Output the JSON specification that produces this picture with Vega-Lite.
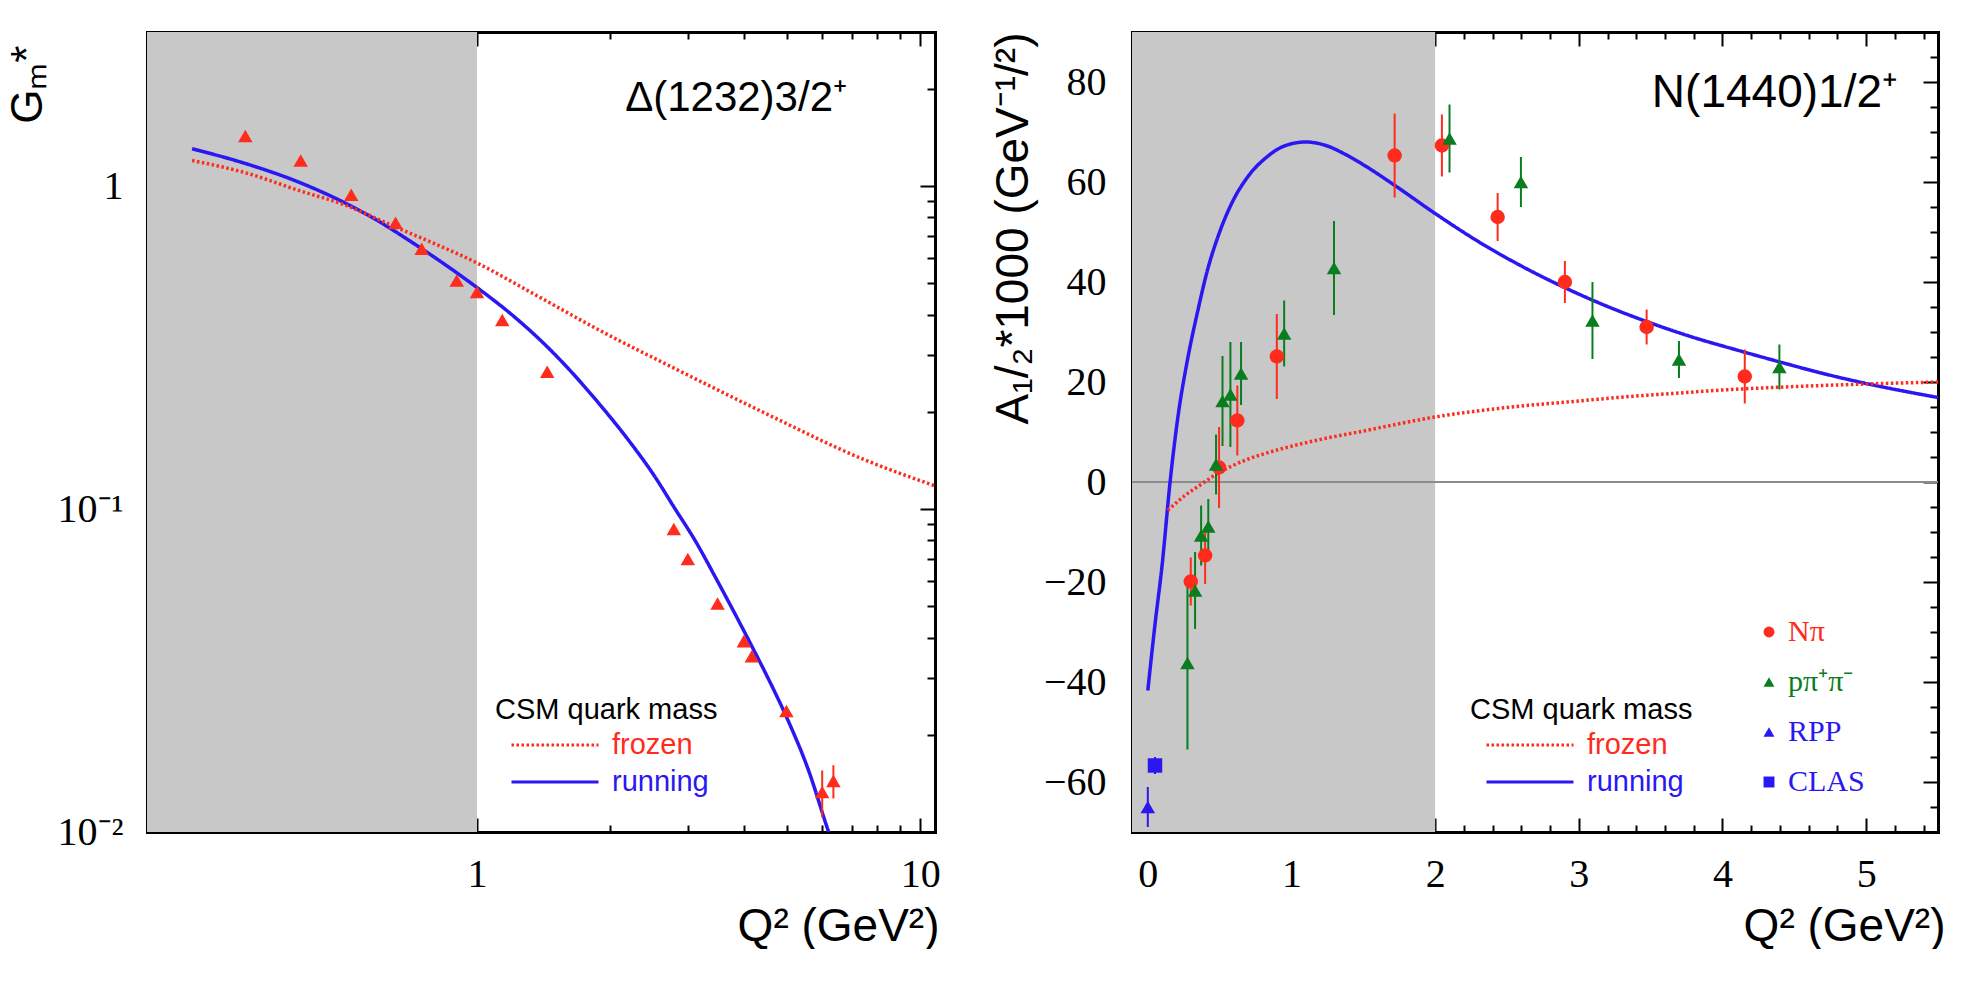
{
  "$schema": "https://vega.github.io/schema/vega-lite/v6.json",
  "background": "white",
  "padding": {"left": 6, "top": 31, "right": 0, "bottom": 0},
  "datasets": {
    "delta_shade": [{"lo": 0.1, "hi": 1}],
    "delta_pts": [
      {"q2": 0.30, "g": 1.43},
      {"q2": 0.40, "g": 1.20},
      {"q2": 0.52, "g": 0.94},
      {"q2": 0.655, "g": 0.77},
      {"q2": 0.75, "g": 0.64},
      {"q2": 0.90, "g": 0.51},
      {"q2": 1.00, "g": 0.47},
      {"q2": 1.14, "g": 0.385},
      {"q2": 1.44, "g": 0.266},
      {"q2": 2.78, "g": 0.0867},
      {"q2": 2.99, "g": 0.070},
      {"q2": 3.49, "g": 0.051},
      {"q2": 4.00, "g": 0.039},
      {"q2": 4.17, "g": 0.035},
      {"q2": 4.99, "g": 0.0237},
      {"q2": 6.01, "g": 0.0133, "lo": 0.0111, "hi": 0.0155},
      {"q2": 6.37, "g": 0.0144, "lo": 0.0127, "hi": 0.0161}
    ],
    "delta_curves": [
      {"model": "running", "q2": 0.2275, "g": 1.305},
      {"model": "running", "q2": 0.3, "g": 1.175},
      {"model": "running", "q2": 0.4, "g": 1.023},
      {"model": "running", "q2": 0.5, "g": 0.891},
      {"model": "running", "q2": 0.6, "g": 0.778},
      {"model": "running", "q2": 0.7, "g": 0.681},
      {"model": "running", "q2": 0.8, "g": 0.603},
      {"model": "running", "q2": 1.0, "g": 0.485},
      {"model": "running", "q2": 1.2, "g": 0.399},
      {"model": "running", "q2": 1.44, "g": 0.318},
      {"model": "running", "q2": 1.6, "g": 0.274},
      {"model": "running", "q2": 1.88, "g": 0.213},
      {"model": "running", "q2": 2.2, "g": 0.163},
      {"model": "running", "q2": 2.5, "g": 0.128},
      {"model": "running", "q2": 2.8, "g": 0.100},
      {"model": "running", "q2": 3.1, "g": 0.0802},
      {"model": "running", "q2": 3.5, "g": 0.0593},
      {"model": "running", "q2": 4.17, "g": 0.0376},
      {"model": "running", "q2": 4.6, "g": 0.0288},
      {"model": "running", "q2": 5.0, "g": 0.0226},
      {"model": "running", "q2": 5.6, "g": 0.0155},
      {"model": "running", "q2": 6.2, "g": 0.0101},
      {"model": "running", "q2": 6.5, "g": 0.0084},
      {"model": "frozen", "q2": 0.2275, "g": 1.20},
      {"model": "frozen", "q2": 0.3, "g": 1.10},
      {"model": "frozen", "q2": 0.4, "g": 0.965},
      {"model": "frozen", "q2": 0.5, "g": 0.877},
      {"model": "frozen", "q2": 0.65, "g": 0.75},
      {"model": "frozen", "q2": 1.0, "g": 0.578},
      {"model": "frozen", "q2": 1.4, "g": 0.449},
      {"model": "frozen", "q2": 1.88, "g": 0.359},
      {"model": "frozen", "q2": 2.8, "g": 0.272},
      {"model": "frozen", "q2": 4.47, "g": 0.198},
      {"model": "frozen", "q2": 7.5, "g": 0.142},
      {"model": "frozen", "q2": 10.8, "g": 0.118}
    ],
    "roper_shade": [{"lo": -0.5, "hi": 2}],
    "roper_pts": [
      {"set": "Nπ", "q2": 0.299, "a": -19.9, "lo": -24.7, "hi": -15.1},
      {"set": "Nπ", "q2": 0.399, "a": -14.7, "lo": -20.4, "hi": -9.0},
      {"set": "Nπ", "q2": 0.496, "a": 2.9, "lo": -5.2, "hi": 11.0},
      {"set": "Nπ", "q2": 0.623, "a": 12.3, "lo": 5.3, "hi": 19.3},
      {"set": "Nπ", "q2": 0.898, "a": 25.1, "lo": 16.6, "hi": 33.6},
      {"set": "Nπ", "q2": 1.718, "a": 65.3, "lo": 56.9, "hi": 73.7},
      {"set": "Nπ", "q2": 2.047, "a": 67.3, "lo": 61.1, "hi": 73.5},
      {"set": "Nπ", "q2": 2.435, "a": 53.0, "lo": 48.2, "hi": 57.8},
      {"set": "Nπ", "q2": 2.903, "a": 40.0, "lo": 35.8, "hi": 44.2},
      {"set": "Nπ", "q2": 3.472, "a": 31.0, "lo": 27.5, "hi": 34.5},
      {"set": "Nπ", "q2": 4.155, "a": 21.1, "lo": 15.7, "hi": 26.5},
      {"set": "pπ⁺π⁻", "q2": 0.276, "a": -36.2, "lo": -53.5, "hi": -18.9},
      {"set": "pπ⁺π⁻", "q2": 0.329, "a": -21.7, "lo": -29.4, "hi": -14.0},
      {"set": "pπ⁺π⁻", "q2": 0.371, "a": -10.7, "lo": -16.7, "hi": -4.7},
      {"set": "pπ⁺π⁻", "q2": 0.421, "a": -8.9, "lo": -14.4, "hi": -3.4},
      {"set": "pπ⁺π⁻", "q2": 0.475, "a": 3.5, "lo": -2.5, "hi": 9.5},
      {"set": "pπ⁺π⁻", "q2": 0.52, "a": 16.2, "lo": 7.2, "hi": 25.2},
      {"set": "pπ⁺π⁻", "q2": 0.575, "a": 17.5, "lo": 7.0, "hi": 28.0},
      {"set": "pπ⁺π⁻", "q2": 0.649, "a": 21.7, "lo": 15.4, "hi": 28.0},
      {"set": "pπ⁺π⁻", "q2": 0.949, "a": 29.7, "lo": 23.1, "hi": 36.3},
      {"set": "pπ⁺π⁻", "q2": 1.296, "a": 42.8, "lo": 33.4, "hi": 52.2},
      {"set": "pπ⁺π⁻", "q2": 2.1, "a": 68.7, "lo": 61.9, "hi": 75.5},
      {"set": "pπ⁺π⁻", "q2": 2.597, "a": 60.0, "lo": 55.0, "hi": 65.0},
      {"set": "pπ⁺π⁻", "q2": 3.095, "a": 32.3, "lo": 24.6, "hi": 40.0},
      {"set": "pπ⁺π⁻", "q2": 3.697, "a": 24.5, "lo": 20.8, "hi": 28.2},
      {"set": "pπ⁺π⁻", "q2": 4.396, "a": 23.0, "lo": 18.5, "hi": 27.5},
      {"set": "RPP", "q2": 0.0, "a": -65.0, "lo": -69.0, "hi": -61.0},
      {"set": "CLAS", "q2": 0.05, "a": -56.7, "lo": -58.4, "hi": -55.0}
    ],
    "roper_curves": [
      {"model": "running", "q2": 0.0, "a": -41.7},
      {"model": "running", "q2": 0.05, "a": -28.5},
      {"model": "running", "q2": 0.1, "a": -16.5},
      {"model": "running", "q2": 0.155, "a": 0.0},
      {"model": "running", "q2": 0.213, "a": 13.7},
      {"model": "running", "q2": 0.27, "a": 23.5},
      {"model": "running", "q2": 0.35, "a": 34.5},
      {"model": "running", "q2": 0.41, "a": 41.8},
      {"model": "running", "q2": 0.5, "a": 50.0},
      {"model": "running", "q2": 0.58, "a": 55.5},
      {"model": "running", "q2": 0.7, "a": 61.2},
      {"model": "running", "q2": 0.82, "a": 64.8},
      {"model": "running", "q2": 0.95, "a": 67.2},
      {"model": "running", "q2": 1.1, "a": 68.0},
      {"model": "running", "q2": 1.25, "a": 67.2},
      {"model": "running", "q2": 1.37, "a": 65.6},
      {"model": "running", "q2": 1.52, "a": 63.1},
      {"model": "running", "q2": 1.72, "a": 59.3},
      {"model": "running", "q2": 2.0, "a": 53.7},
      {"model": "running", "q2": 2.3, "a": 48.1},
      {"model": "running", "q2": 2.6, "a": 43.2},
      {"model": "running", "q2": 2.9, "a": 38.9},
      {"model": "running", "q2": 3.2, "a": 35.1},
      {"model": "running", "q2": 3.5, "a": 31.8},
      {"model": "running", "q2": 3.8, "a": 28.9},
      {"model": "running", "q2": 4.1, "a": 26.4},
      {"model": "running", "q2": 4.4, "a": 24.0},
      {"model": "running", "q2": 4.7, "a": 21.7},
      {"model": "running", "q2": 5.0, "a": 19.7},
      {"model": "running", "q2": 5.5, "a": 16.9},
      {"model": "frozen", "q2": 0.139, "a": -5.7},
      {"model": "frozen", "q2": 0.25, "a": -2.9},
      {"model": "frozen", "q2": 0.38, "a": -0.3},
      {"model": "frozen", "q2": 0.49, "a": 1.8},
      {"model": "frozen", "q2": 0.6, "a": 3.4},
      {"model": "frozen", "q2": 0.7, "a": 4.6},
      {"model": "frozen", "q2": 0.9, "a": 6.4},
      {"model": "frozen", "q2": 1.2, "a": 8.5},
      {"model": "frozen", "q2": 1.5, "a": 10.2},
      {"model": "frozen", "q2": 1.67, "a": 11.2},
      {"model": "frozen", "q2": 2.0, "a": 13.0},
      {"model": "frozen", "q2": 2.5, "a": 14.9},
      {"model": "frozen", "q2": 3.0, "a": 16.2},
      {"model": "frozen", "q2": 3.27, "a": 16.9},
      {"model": "frozen", "q2": 3.7, "a": 17.8},
      {"model": "frozen", "q2": 4.0, "a": 18.4},
      {"model": "frozen", "q2": 4.43, "a": 19.0},
      {"model": "frozen", "q2": 5.0, "a": 19.6},
      {"model": "frozen", "q2": 5.5, "a": 20.0}
    ]
  },
  "bounds": "flush",
  "spacing": 197,
  "resolve": {"scale": {"stroke": "independent", "strokeDash": "independent", "color": "independent", "shape": "independent"}},
  "hconcat": [
    {
      "width": 788,
      "height": 800,
      "title": {"text": "Δ(1232)3/2⁺", "anchor": "end", "frame": "group", "offset": -122, "dx": -88, "baseline": "alphabetic", "font": "Liberation Sans", "fontSize": 42, "fontWeight": "normal", "color": "black"},
      "layer": [
        {
          "data": {"name": "delta_shade"},
          "mark": {"type": "rect", "color": "#c8c8c8", "clip": true},
          "encoding": {
            "x": {"field": "lo", "type": "quantitative", "scale": {"type": "log", "domain": [0.18, 10.8], "nice": false}, "axis": null},
            "x2": {"field": "hi"}
          }
        },
        {
          "data": {"name": "delta_curves"},
          "mark": {"type": "line", "strokeWidth": 3.5, "clip": true, "interpolate": "monotone"},
          "encoding": {
            "x": {"field": "q2", "type": "quantitative", "scale": {"type": "log", "domain": [0.18, 10.8], "nice": false},
              "axis": {"orient": "bottom", "values": [0.2, 0.3, 0.4, 0.5, 0.6, 0.7, 0.8, 0.9, 1, 2, 3, 4, 5, 6, 7, 8, 9, 10],
                "labelExpr": "datum.value == 1 ? '1' : datum.value == 10 ? '10' : ''",
                "tickSize": {"condition": {"test": "datum.value == 1 || datum.value == 10", "value": -14}, "value": -7},
                "labelPadding": 36, "title": "Q² (GeV²)", "titleAnchor": "end", "titleAlign": "right", "titleBaseline": "alphabetic", "titleX": 792, "titleY": 108}},
            "y": {"field": "g", "type": "quantitative", "scale": {"type": "log", "domain": [0.01, 3], "nice": false},
              "axis": {"orient": "left", "values": [0.01, 0.02, 0.03, 0.04, 0.05, 0.06, 0.07, 0.08, 0.09, 0.1, 0.2, 0.3, 0.4, 0.5, 0.6, 0.7, 0.8, 0.9, 1, 2],
                "labelExpr": "datum.value == 1 ? '1' : datum.value == 0.1 ? '10⁻¹' : datum.value == 0.01 ? '10⁻²' : ''",
                "tickSize": {"condition": {"test": "datum.value == 0.01 || datum.value == 0.1 || datum.value == 1", "value": -15}, "value": -8},
                "labelPadding": 39, "title": "Gₘ*", "titleFontSize": 44, "titleAngle": -90, "titleAnchor": "end", "titleAlign": "right", "titleBaseline": "alphabetic", "titleX": -106, "titleY": 13}},
            "stroke": {"field": "model", "type": "nominal", "scale": {"domain": ["frozen", "running"], "range": ["#ff2b1c", "#2a17f2"]},
              "legend": {"orient": "none", "legendX": 348, "legendY": 664, "title": "CSM quark mass", "symbolType": "stroke", "symbolSize": 7569, "symbolStrokeWidth": 3, "symbolOffset": 15, "clipHeight": 30, "labelOffset": 12, "rowPadding": 7, "titlePadding": 5,
                "labelColor": {"expr": "datum.label == 'frozen' ? '#ff2b1c' : '#2a17f2'"}}},
            "strokeDash": {"field": "model", "type": "nominal", "scale": {"domain": ["frozen", "running"], "range": [[2.5, 2.5], [1, 0]]},
              "legend": {"orient": "none", "legendX": 348, "legendY": 664, "title": "CSM quark mass", "symbolType": "stroke", "symbolSize": 7569, "symbolStrokeWidth": 3, "symbolOffset": 15, "clipHeight": 30, "labelOffset": 12, "rowPadding": 7, "titlePadding": 5,
                "labelColor": {"expr": "datum.label == 'frozen' ? '#ff2b1c' : '#2a17f2'"}}}
          }
        },
        {
          "data": {"name": "delta_pts"},
          "transform": [{"filter": "isValid(datum.lo)"}],
          "mark": {"type": "rule", "color": "#ff2b1c", "strokeWidth": 2},
          "encoding": {
            "x": {"field": "q2", "type": "quantitative", "axis": null},
            "y": {"field": "lo", "type": "quantitative", "axis": null},
            "y2": {"field": "hi"}
          }
        },
        {
          "data": {"name": "delta_pts"},
          "mark": {"type": "point", "shape": "triangle-up", "filled": true, "color": "#ff2b1c", "size": 210, "opacity": 1},
          "encoding": {
            "x": {"field": "q2", "type": "quantitative",
              "axis": {"orient": "top", "values": [0.2, 0.3, 0.4, 0.5, 0.6, 0.7, 0.8, 0.9, 1, 2, 3, 4, 5, 6, 7, 8, 9, 10], "labels": false, "title": null,
                "tickSize": {"condition": {"test": "datum.value == 1 || datum.value == 10", "value": -14}, "value": -7}}},
            "y": {"field": "g", "type": "quantitative",
              "axis": {"orient": "right", "values": [0.01, 0.02, 0.03, 0.04, 0.05, 0.06, 0.07, 0.08, 0.09, 0.1, 0.2, 0.3, 0.4, 0.5, 0.6, 0.7, 0.8, 0.9, 1, 2], "labels": false, "title": null,
                "tickSize": {"condition": {"test": "datum.value == 0.01 || datum.value == 0.1 || datum.value == 1", "value": -15}, "value": -8}}}
          }
        }
      ]
    },
    {
      "width": 806,
      "height": 800,
      "title": {"text": "N(1440)1/2⁺", "anchor": "end", "frame": "group", "offset": -122, "dx": -40, "baseline": "alphabetic", "font": "Liberation Sans", "fontSize": 46, "fontWeight": "normal", "color": "black"},
      "layer": [
        {
          "data": {"name": "roper_shade"},
          "mark": {"type": "rect", "color": "#c8c8c8", "clip": true},
          "encoding": {
            "x": {"field": "lo", "type": "quantitative", "scale": {"domain": [-0.11, 5.5], "nice": false, "zero": false}, "axis": null},
            "x2": {"field": "hi"}
          }
        },
        {
          "data": {"name": "roper_shade"},
          "mark": {"type": "rule", "color": "#8c8c8c", "strokeWidth": 2},
          "encoding": {
            "y": {"datum": 0, "type": "quantitative", "scale": {"domain": [-70, 90], "nice": false, "zero": false}, "axis": null}
          }
        },
        {
          "data": {"name": "roper_curves"},
          "mark": {"type": "line", "strokeWidth": 3.5, "clip": true, "interpolate": "monotone"},
          "encoding": {
            "x": {"field": "q2", "type": "quantitative",
              "axis": {"orient": "bottom", "values": [0, 0.2, 0.4, 0.6, 0.8, 1, 1.2, 1.4, 1.6, 1.8, 2, 2.2, 2.4, 2.6, 2.8, 3, 3.2, 3.4, 3.6, 3.8, 4, 4.2, 4.4, 4.6, 4.8, 5, 5.2, 5.4],
                "labelExpr": "datum.value % 1 == 0 ? format(datum.value, 'd') : ''",
                "tickSize": {"condition": {"test": "datum.value % 1 == 0", "value": -14}, "value": -7},
                "labelPadding": 36, "title": "Q² (GeV²)", "titleAnchor": "end", "titleAlign": "right", "titleBaseline": "alphabetic", "titleX": 813, "titleY": 108}},
            "y": {"field": "a", "type": "quantitative",
              "axis": {"orient": "left", "values": [-65, -60, -55, -50, -45, -40, -35, -30, -25, -20, -15, -10, -5, 0, 5, 10, 15, 20, 25, 30, 35, 40, 45, 50, 55, 60, 65, 70, 75, 80, 85],
                "labelExpr": "datum.value % 20 == 0 ? datum.label : ''",
                "tickSize": {"condition": {"test": "datum.value % 20 == 0", "value": -15}, "value": -8},
                "labelPadding": 41, "title": "A₁/₂*1000 (GeV⁻¹/²)", "titleAngle": -90, "titleAnchor": "end", "titleAlign": "right", "titleBaseline": "alphabetic", "titleX": -105, "titleY": 0}},
            "stroke": {"field": "model", "type": "nominal", "scale": {"domain": ["frozen", "running"], "range": ["#ff2b1c", "#2a17f2"]},
              "legend": {"orient": "none", "legendX": 338, "legendY": 664, "title": "CSM quark mass", "symbolType": "stroke", "symbolSize": 7569, "symbolStrokeWidth": 3, "symbolOffset": 15, "clipHeight": 30, "labelOffset": 12, "rowPadding": 7, "titlePadding": 5,
                "labelColor": {"expr": "datum.label == 'frozen' ? '#ff2b1c' : '#2a17f2'"}}},
            "strokeDash": {"field": "model", "type": "nominal", "scale": {"domain": ["frozen", "running"], "range": [[2.5, 2.5], [1, 0]]},
              "legend": {"orient": "none", "legendX": 338, "legendY": 664, "title": "CSM quark mass", "symbolType": "stroke", "symbolSize": 7569, "symbolStrokeWidth": 3, "symbolOffset": 15, "clipHeight": 30, "labelOffset": 12, "rowPadding": 7, "titlePadding": 5,
                "labelColor": {"expr": "datum.label == 'frozen' ? '#ff2b1c' : '#2a17f2'"}}}
          }
        },
        {
          "data": {"name": "roper_pts"},
          "transform": [{"filter": "datum.set == 'Nπ'"}],
          "mark": {"type": "rule", "strokeWidth": 2, "color": "#ff2b1c"},
          "encoding": {
            "x": {"field": "q2", "type": "quantitative", "axis": null},
            "y": {"field": "lo", "type": "quantitative", "axis": null},
            "y2": {"field": "hi"}
          }
        },
        {
          "data": {"name": "roper_pts"},
          "transform": [{"filter": "datum.set == 'pπ⁺π⁻'"}],
          "mark": {"type": "rule", "strokeWidth": 2, "color": "#0a7d1f"},
          "encoding": {
            "x": {"field": "q2", "type": "quantitative", "axis": null},
            "y": {"field": "lo", "type": "quantitative", "axis": null},
            "y2": {"field": "hi"}
          }
        },
        {
          "data": {"name": "roper_pts"},
          "transform": [{"filter": "datum.set == 'RPP' || datum.set == 'CLAS'"}],
          "mark": {"type": "rule", "strokeWidth": 2, "color": "#2a17f2"},
          "encoding": {
            "x": {"field": "q2", "type": "quantitative", "axis": null},
            "y": {"field": "lo", "type": "quantitative", "axis": null},
            "y2": {"field": "hi"}
          }
        },
        {
          "data": {"name": "roper_pts"},
          "mark": {"type": "point", "filled": true, "size": 210, "opacity": 1},
          "encoding": {
            "x": {"field": "q2", "type": "quantitative",
              "axis": {"orient": "top", "values": [0, 0.2, 0.4, 0.6, 0.8, 1, 1.2, 1.4, 1.6, 1.8, 2, 2.2, 2.4, 2.6, 2.8, 3, 3.2, 3.4, 3.6, 3.8, 4, 4.2, 4.4, 4.6, 4.8, 5, 5.2, 5.4], "labels": false, "title": null,
                "tickSize": {"condition": {"test": "datum.value % 1 == 0", "value": -14}, "value": -7}}},
            "y": {"field": "a", "type": "quantitative",
              "axis": {"orient": "right", "values": [-65, -60, -55, -50, -45, -40, -35, -30, -25, -20, -15, -10, -5, 0, 5, 10, 15, 20, 25, 30, 35, 40, 45, 50, 55, 60, 65, 70, 75, 80, 85], "labels": false, "title": null,
                "tickSize": {"condition": {"test": "datum.value % 20 == 0", "value": -15}, "value": -8}}},
            "color": {"field": "set", "type": "nominal", "scale": {"domain": ["Nπ", "pπ⁺π⁻", "RPP", "CLAS"], "range": ["#ff2b1c", "#0a7d1f", "#2a17f2", "#2a17f2"]},
              "legend": {"orient": "none", "legendX": 622, "legendY": 585, "title": null, "labelFont": "Liberation Serif", "labelFontSize": 30, "symbolSize": 120, "rowPadding": 20, "labelOffset": 4,
                "labelColor": {"expr": "datum.label == 'Nπ' ? '#ff2b1c' : (datum.label == 'RPP' || datum.label == 'CLAS') ? '#2a17f2' : '#0a7d1f'"}}},
            "shape": {"field": "set", "type": "nominal", "scale": {"domain": ["Nπ", "pπ⁺π⁻", "RPP", "CLAS"], "range": ["circle", "triangle-up", "triangle-up", "square"]},
              "legend": {"orient": "none", "legendX": 622, "legendY": 585, "title": null, "labelFont": "Liberation Serif", "labelFontSize": 30, "symbolSize": 120, "rowPadding": 20, "labelOffset": 4,
                "labelColor": {"expr": "datum.label == 'Nπ' ? '#ff2b1c' : (datum.label == 'RPP' || datum.label == 'CLAS') ? '#2a17f2' : '#0a7d1f'"}}}
          }
        }
      ]
    }
  ],
  "config": {
    "view": {"stroke": null},
    "axis": {
      "grid": false,
      "domainColor": "black",
      "domainWidth": 3,
      "domainCap": "square",
      "tickColor": "black",
      "tickWidth": 2,
      "labelFont": "Liberation Serif",
      "labelFontSize": 40,
      "labelColor": "black",
      "labelOverlap": false,
      "labelFlush": false,
      "titleFont": "Liberation Sans",
      "titleFontSize": 46,
      "titleFontWeight": "normal",
      "titleColor": "black",
      "zindex": 1
    },
    "legend": {
      "labelFont": "Liberation Sans",
      "labelFontSize": 29,
      "titleFont": "Liberation Sans",
      "titleFontSize": 29,
      "titleFontWeight": "normal",
      "titleColor": "black",
      "padding": 0,
      "labelLimit": 400,
      "titleLimit": 500
    }
  }
}
